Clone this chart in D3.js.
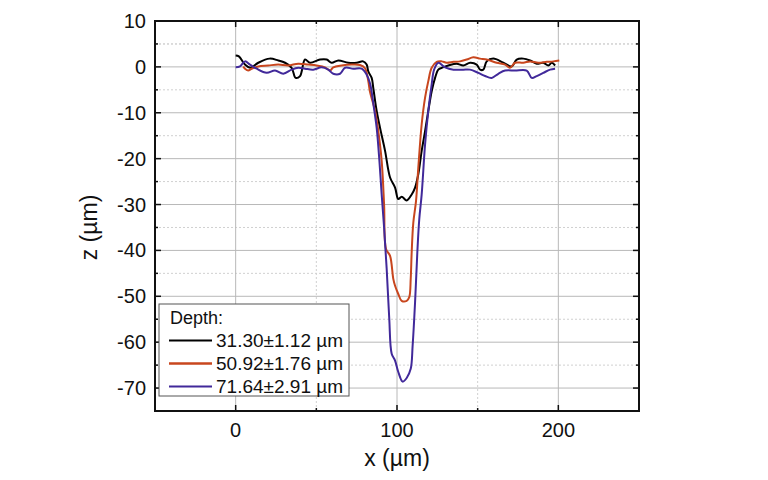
<!DOCTYPE html>
<html>
<head>
<meta charset="utf-8">
<script src="https://cdn.jsdelivr.net/npm/d3@7"></script>
<style>
  body { margin: 0; background: #fff; }
  svg text { font-family: "Liberation Sans", Arial, sans-serif; fill: #111; }
</style>
</head>
<body>
<div id="chart"></div>
<script>
// profile scans, x in µm, z in µm
const depthLabels = ["31.30±1.12 µm", "50.92±1.76 µm", "71.64±2.91 µm"];
const lineColors = ["#000000", "#c8461e", "#41299a"];

const blackX = [0, 2, 5.8, 9, 14, 21, 26.4, 30.6, 34.7, 37.2, 39.9, 43, 46, 52.3, 56.4, 59.5, 63.6, 69.8, 75, 79, 81.2, 82.2, 84.3, 85.3, 87.4, 89.5, 92.6, 95.7, 98.8, 100.8, 102.9, 106, 109.1, 111.2, 113.2, 115.3, 117.4, 119.4, 121.5, 123.6, 125.6, 127.7, 131.8, 137, 141.1, 145.3, 149.4, 151.5, 153.5, 155.6, 159.7, 165.9, 171.1, 174.2, 178.3, 182.5, 186.6, 190.7, 193.8, 195.9, 198];
const blackZ = [2.5, 2.3, 0.5, -0.2, 0.9, 1.8, 1.4, 0.9, -0.2, -2.4, -2.0, 1.6, 0.9, 1.6, 1.6, 0.9, 1.4, 0.9, 0.9, 1.2, 0.5, -1.0, -2.4, -4.6, -9.6, -13.3, -18.3, -24.1, -26.3, -28.8, -28.3, -29.1, -27.8, -26.3, -23.4, -18.3, -14, -9.6, -5.3, -2.4, -0.6, -0.2, 0.3, 0.7, 0.3, 0.9, 0.5, -0.6, -0.6, 1.2, 1.8, 0.9, 0.1, 1.6, 1.8, 1.4, 0.7, 0.9, 0.3, 0.9, 0.3];

const orangeX = [4.7, 5.8, 7.8, 9.9, 14, 20.2, 26.4, 32.6, 38.8, 45, 50.2, 55.4, 58.5, 60.5, 65.7, 71.9, 77.1, 80.2, 82.2, 83.3, 86.4, 88.4, 90.5, 92, 93.2, 95.7, 97.7, 98.8, 100.8, 102.9, 106, 107.6, 108.5, 109.1, 110.1, 111.8, 113.2, 115.3, 117.4, 119.4, 121.5, 124.6, 127.7, 130.8, 135, 139, 143.2, 147.3, 151.5, 155.6, 161.8, 167, 170, 173.2, 178.3, 182.5, 187.6, 192.8, 196.9, 200.6];
const orangeZ = [0.1, -0.4, -0.8, -0.4, 0.1, 0.3, 0.5, 0.3, 0.7, 0.5, 0.3, -0.1, -0.8, -0.1, 0.3, 0.5, 0.4, -0.3, -3.1, -5.5, -9.6, -14, -20.5, -30, -39.7, -41.2, -46.2, -47.7, -49.5, -51, -51, -50.2, -46.2, -40.4, -34, -29.2, -22, -12.5, -6.7, -3.1, -0.2, 1.1, 1.2, 0.9, 1.1, 1.2, 1.6, 2.1, 1.8, 1.6, 0.9, 0.5, -0.2, 0.9, 0.9, 1.2, 0.9, 1.1, 1.2, 1.4];

const purpleX = [0, 2.7, 5.8, 8.9, 13, 19.2, 24.4, 29.5, 34.7, 38.8, 43, 48.1, 53.3, 57.4, 60.5, 64.7, 67.8, 72.9, 78.1, 81.2, 83.3, 85.4, 87.4, 89.1, 90.5, 92, 93.6, 95.2, 96.7, 98.8, 100.8, 103.5, 106, 108.5, 109.7, 111.2, 112.6, 113.8, 115.3, 117.4, 119.4, 121.5, 123, 125.6, 129.8, 135, 141.1, 145.3, 150.4, 154.6, 158.7, 162.8, 167, 173.2, 180.4, 183.5, 186.6, 190.7, 194.9, 198];
const purpleZ = [-0.1, 0.1, 1.2, 0.5, -0.4, -1.3, -0.8, -1.5, -0.6, -0.2, -0.4, -0.6, -0.1, -0.6, -1.5, -1.5, -0.2, -0.4, -0.4, -1.7, -3.6, -8.2, -13.3, -20.5, -27.8, -35, -44, -54.9, -62.5, -64, -66.5, -68.6, -67.8, -65.8, -60.7, -51.3, -40.4, -33.2, -27.8, -16.9, -9.6, -3.8, -0.6, 0.9, -0.1, -0.6, -0.6, -0.6, -1.3, -2.0, -2.4, -1.5, -0.8, -0.8, -0.8, -2.4, -2.0, -1.3, -0.6, -0.4];

const xTicks = [0, 100, 200];
const yTicks = [10, 0, -10, -20, -30, -40, -50, -60, -70];

const series = [
  { x: blackX, z: blackZ },
  { x: orangeX, z: orangeZ },
  { x: purpleX, z: purpleZ },
];

const W = 768, H = 480;
const margin = { top: 21, right: 129, bottom: 69, left: 155 };

const svg = d3.select("#chart").append("svg")
  .attr("width", W).attr("height", H);

const x = d3.scaleLinear().domain([-50, 250]).range([margin.left, W - margin.right]);
const y = d3.scaleLinear().domain([-75, 10]).range([H - margin.bottom, margin.top]);

const x0 = x.range()[0], x1 = x.range()[1];
const y0 = y.range()[1], y1 = y.range()[0];

// minor dotted grid
const xMinor = d3.range(-50, 251, 50).filter(v => !xTicks.includes(v));
const yMinor = d3.range(-75, 10, 10).concat([5]);

svg.append("g").selectAll("line").data(xMinor).join("line")
  .attr("x1", d => x(d)).attr("x2", d => x(d)).attr("y1", y0).attr("y2", y1)
  .attr("stroke", "#d0d0d0").attr("stroke-dasharray", "2,2").attr("stroke-width", 1);
svg.append("g").selectAll("line").data(yMinor).join("line")
  .attr("y1", d => y(d)).attr("y2", d => y(d)).attr("x1", x0).attr("x2", x1)
  .attr("stroke", "#d0d0d0").attr("stroke-dasharray", "2,2").attr("stroke-width", 1);

// major grid
svg.append("g").selectAll("line").data(xTicks).join("line")
  .attr("x1", d => x(d)).attr("x2", d => x(d)).attr("y1", y0).attr("y2", y1)
  .attr("stroke", "#b8b8b8").attr("stroke-width", 1);
svg.append("g").selectAll("line").data(yTicks.filter(v => v < 10)).join("line")
  .attr("y1", d => y(d)).attr("y2", d => y(d)).attr("x1", x0).attr("x2", x1)
  .attr("stroke", "#b8b8b8").attr("stroke-width", 1);

// curves
const line = d3.line().x(d => x(d[0])).y(d => y(d[1])).curve(d3.curveCatmullRom.alpha(0.5));
series.forEach((s, i) => {
  svg.append("path")
    .datum(s.x.map((v, j) => [v, s.z[j]]))
    .attr("d", line)
    .attr("fill", "none")
    .attr("stroke", lineColors[i])
    .attr("stroke-width", 2)
    .attr("stroke-linejoin", "round");
});

// inward ticks on all four sides
const tickG = svg.append("g").attr("stroke", "#111").attr("stroke-width", 1.5);
const xAll = d3.range(-50, 251, 50);
const yAll = d3.range(-75, 11, 5);
xAll.forEach(v => {
  const len = xTicks.includes(v) ? 6 : 3;
  tickG.append("line").attr("x1", x(v)).attr("x2", x(v)).attr("y1", y1).attr("y2", y1 - len);
  tickG.append("line").attr("x1", x(v)).attr("x2", x(v)).attr("y1", y0).attr("y2", y0 + len);
});
yAll.forEach(v => {
  const len = yTicks.includes(v) ? 6 : 3;
  tickG.append("line").attr("y1", y(v)).attr("y2", y(v)).attr("x1", x0).attr("x2", x0 + len);
  tickG.append("line").attr("y1", y(v)).attr("y2", y(v)).attr("x1", x1).attr("x2", x1 - len);
});

// frame
svg.append("rect")
  .attr("x", x0).attr("y", y0).attr("width", x1 - x0).attr("height", y1 - y0)
  .attr("fill", "none").attr("stroke", "#111").attr("stroke-width", 2);

// tick labels
svg.append("g").selectAll("text").data(xTicks).join("text")
  .attr("x", d => x(d)).attr("y", y1 + 26)
  .attr("text-anchor", "middle").style("font-size", "20px").text(d => d);
svg.append("g").selectAll("text").data(yTicks).join("text")
  .attr("x", x0 - 9).attr("y", d => y(d)).attr("dy", "0.35em")
  .attr("text-anchor", "end").style("font-size", "20px").text(d => d);

// axis titles
svg.append("text").attr("x", x(100)).attr("y", 466)
  .attr("text-anchor", "middle").style("font-size", "23px").text("x (µm)");
svg.append("text")
  .attr("transform", `translate(97,${y(-35)}) rotate(-90)`)
  .attr("text-anchor", "middle").style("font-size", "23px").text("z (µm)");

// legend
const lg = svg.append("g").attr("transform", "translate(159,304)");
lg.append("rect").attr("width", 190).attr("height", 92)
  .attr("fill", "#fff").attr("stroke", "#555").attr("stroke-width", 1);
lg.append("text").attr("x", 11).attr("y", 19.5).style("font-size", "18px").text("Depth:");
depthLabels.forEach((lab, i) => {
  const yy = 36.5 + i * 23;
  lg.append("line").attr("x1", 10).attr("x2", 53).attr("y1", yy).attr("y2", yy)
    .attr("stroke", lineColors[i]).attr("stroke-width", i === 1 ? 2.5 : 2);
  lg.append("text").attr("x", 57).attr("y", yy).attr("dy", "0.35em")
    .style("font-size", "19px").text(lab);
});
</script>
</body>
</html>
